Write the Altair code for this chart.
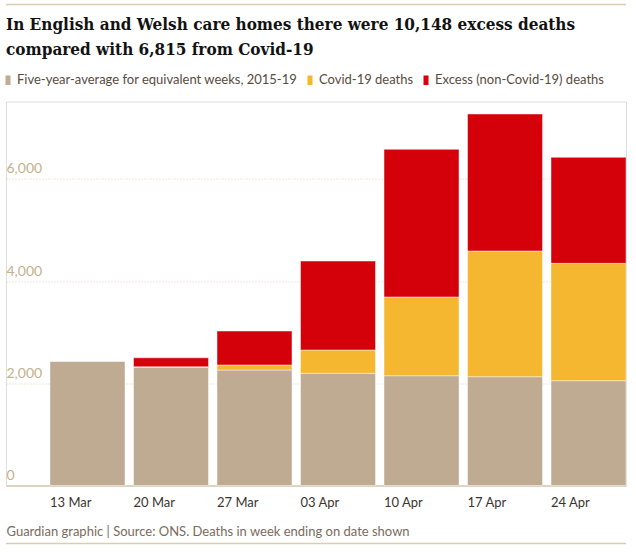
import altair as alt
import pandas as pd

# Weekly deaths in English and Welsh care homes (week ending on the date shown)
weeks = ["13 Mar", "20 Mar", "27 Mar", "03 Apr", "10 Apr", "17 Apr", "24 Apr"]
five_year_avg = [2436, 2313, 2260, 2196, 2149, 2129, 2051]
covid_deaths = [0, 10, 98, 456, 1540, 2460, 2297]
excess_non_covid = [0, 176, 665, 1741, 2890, 2681, 2075]

series_names = [
    "Five-year-average for equivalent weeks, 2015-19",
    "Covid-19 deaths",
    "Excess (non-Covid-19) deaths",
]
series_colors = ["#bfab91", "#f5b630", "#d4000a"]

rows = []
for i, w in enumerate(weeks):
    for k, vals in enumerate([five_year_avg, covid_deaths, excess_non_covid]):
        rows.append({"week": w, "series": series_names[k], "deaths": vals[i], "order": k})
df = pd.DataFrame(rows)

TAN = "#c5b18d"
GRID = "#dacdb3"
W, H = 620, 384
BAR_HALF = 37.5  # half of the rendered bar width, used to left-align week labels

bars = alt.Chart(df).mark_bar(
    stroke="#ffffff", strokeWidth=1, strokeOpacity=0.45
).encode(
    x=alt.X(
        "week:N",
        sort=weeks,
        scale=alt.Scale(paddingInner=0.102, paddingOuter=0.2635, align=1),
        axis=alt.Axis(
            title="Guardian graphic | Source: ONS. Deaths in week ending on date shown",
            titleX=0,
            titleY=49.5,
            titleAlign="left",
            titleBaseline="alphabetic",
            titleFont="Lato",
            titleFontSize=13,
            titleFontWeight="normal",
            titleColor="#7a6b5c",
            labelAlign="left",
            labelBaseline="alphabetic",
            labelPadding=20.5,
            labelOffset=-BAR_HALF,
            labelFont="Lato",
            labelFontSize=13,
            labelColor="#3a342e",
            labelAngle=0,
            ticks=False,
            tickSize=0,
            domain=True,
            domainColor=GRID,
            domainWidth=1.5,
            grid=False,
        ),
    ),
    y=alt.Y(
        "deaths:Q",
        stack="zero",
        scale=alt.Scale(domain=[0, 7515], nice=False),
        axis=alt.Axis(
            title=None,
            values=[0, 2000, 4000, 6000],
            format=",d",
            labelAlign="left",
            labelBaseline="alphabetic",
            labelOffset=-6,
            labelPadding=0,
            labelFont="Lato",
            labelFontSize=14,
            labelColor=TAN,
            ticks=False,
            tickSize=0,
            domain=False,
            grid=True,
            gridColor=GRID,
            gridDash=[1, 2],
            gridWidth=1,
        ),
    ),
    color=alt.Color(
        "series:N",
        sort=series_names,
        scale=alt.Scale(domain=series_names, range=series_colors),
        legend=alt.Legend(
            title=None,
            orient="none",
            legendX=-2,
            legendY=-28,
            direction="horizontal",
            symbolType="M-1,-0.95H0V0.95H-1Z",
            symbolSize=100,
            symbolStrokeWidth=0,
            labelFont="Lato",
            labelFontSize=13,
            labelColor="#574b40",
            labelOffset=0,
            labelLimit=0,
            columnPadding=8,
        ),
    ),
    order=alt.Order("order:Q", sort="ascending"),
)

# Thin rules framing the graphic at the top and bottom
one = pd.DataFrame({"k": [0]})
top_rule = alt.Chart(one).mark_rule(color=GRID, strokeWidth=1.5).encode(
    x=alt.value(0), x2=alt.value(W), y=alt.value(-97)
)
bottom_rule = alt.Chart(one).mark_rule(color=GRID, strokeWidth=1.5).encode(
    x=alt.value(0), x2=alt.value(W), y=alt.value(442)
)

chart = alt.layer(top_rule, bottom_rule, bars).properties(
    width=W,
    height=H,
    padding={"left": 6, "right": 10, "top": 101.5, "bottom": 66.5},
    autosize=alt.AutoSizeParams(type="none"),
    title=alt.TitleParams(
        text=[
            "In English and Welsh care homes there were 10,148 excess deaths",
            "compared with 6,815 from Covid-19",
        ],
        anchor="start",
        frame="group",
        font="DejaVu Serif Condensed",
        fontSize=17,
        fontWeight="bold",
        color="#121212",
        lineHeight=25,
        baseline="bottom",
        offset=0,
        dy=72,
    ),
).configure_view(stroke=None).configure(background="#ffffff")

chart.save("out.html", embed_options={"renderer": "svg", "actions": False})
